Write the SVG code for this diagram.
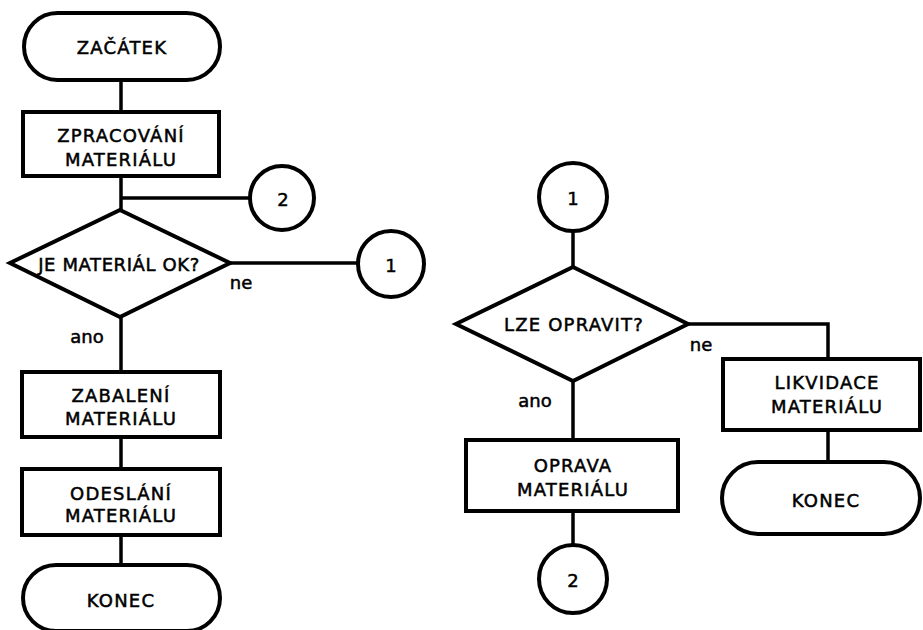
<svg xmlns="http://www.w3.org/2000/svg" width="923" height="630" viewBox="0 0 923 630">
<style>
.s{fill:#fff;stroke:#000;stroke-width:4}
.c{fill:none;stroke:#000;stroke-width:3.5}
.t{font-family:"DejaVu Sans",Verdana,sans-serif;font-size:18px;letter-spacing:1.2px;text-anchor:middle;dominant-baseline:central;fill:#000;stroke:#000;stroke-width:0.5}
.l{font-family:"DejaVu Sans",Verdana,sans-serif;font-size:18px;text-anchor:middle;dominant-baseline:central;fill:#000;stroke:#000;stroke-width:0.5}
</style>
<rect width="923" height="630" fill="#fff"/>
<g id="connectors">
<path class="c" d="M121 80V112"/>
<path class="c" d="M121 176V210"/>
<path class="c" d="M121 198H250"/>
<path class="c" d="M230 263H358"/>
<path class="c" d="M121 317V372"/>
<path class="c" d="M121 437V469"/>
<path class="c" d="M121 535V565"/>
<path class="c" d="M573 231V267"/>
<path class="c" d="M688 324H828V359"/>
<path class="c" d="M573 381V440"/>
<path class="c" d="M573 511V545"/>
<path class="c" d="M828 430V462"/>
</g>
<g id="start"><rect class="s" x="24" y="13" width="196" height="67" rx="33.5"/><text class="t" x="122" y="47">ZAČÁTEK</text></g>
<g id="zpracovani"><rect class="s" x="23" y="112" width="196" height="64"/><text class="t" x="121" y="135">ZPRACOVÁNÍ</text><text class="t" x="121" y="159">MATERIÁLU</text></g>
<g id="c2a"><circle class="s" cx="282" cy="198" r="32"/><text class="l" x="283" y="199">2</text></g>
<g id="d1"><polygon class="s" points="120,210 230,263 120,317 10,263"/><text class="t" x="119" y="264" style="letter-spacing:0.6px">JE MATERIÁL OK?</text></g>
<g id="c1a"><circle class="s" cx="391" cy="264" r="33"/><text class="l" x="391" y="265">1</text></g>
<text class="l" x="241" y="282">ne</text>
<text class="l" x="87" y="336">ano</text>
<g id="zabaleni"><rect class="s" x="22" y="372" width="198" height="65"/><text class="t" x="121" y="395">ZABALENÍ</text><text class="t" x="121" y="418">MATERIÁLU</text></g>
<g id="odeslani"><rect class="s" x="22" y="469" width="198" height="66"/><text class="t" x="121" y="493">ODESLÁNÍ</text><text class="t" x="121" y="515">MATERIÁLU</text></g>
<g id="end1"><rect class="s" x="23" y="565" width="197" height="66" rx="33"/><text class="t" x="121" y="600">KONEC</text></g>
<g id="c1b"><circle class="s" cx="573" cy="197" r="34"/><text class="l" x="573" y="198">1</text></g>
<g id="d2"><polygon class="s" points="573,267 688,324 573,381 456,324"/><text class="t" x="574" y="324">LZE OPRAVIT?</text></g>
<text class="l" x="701" y="344">ne</text>
<text class="l" x="535" y="400">ano</text>
<g id="oprava"><rect class="s" x="466" y="440" width="212" height="71"/><text class="t" x="573" y="465">OPRAVA</text><text class="t" x="573" y="489">MATERIÁLU</text></g>
<g id="c2b"><circle class="s" cx="573" cy="579" r="34"/><text class="l" x="573" y="580">2</text></g>
<g id="likvidace"><rect class="s" x="723" y="359" width="197" height="71"/><text class="t" x="827" y="382">LIKVIDACE</text><text class="t" x="827" y="406">MATERIÁLU</text></g>
<g id="end2"><rect class="s" x="722" y="462" width="198" height="72" rx="36"/><text class="t" x="826" y="500">KONEC</text></g>
</svg>
